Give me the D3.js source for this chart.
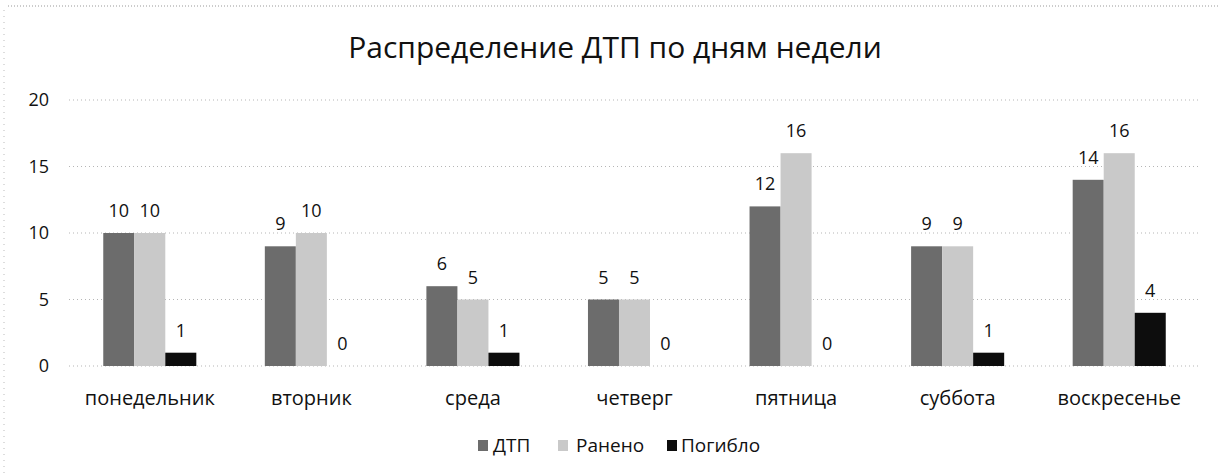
<!DOCTYPE html>
<html>
<head>
<meta charset="utf-8">
<script src="https://cdn.jsdelivr.net/npm/d3@7"></script>
<style>
  html, body { margin: 0; padding: 0; background: #fff; }
  svg { display: block; }
  text { font-family: "Open Sans", "Noto Sans", sans-serif; fill: #111; }
</style>
</head>
<body>
<svg id="chart" width="1218" height="474"></svg>
<script>
const titleText = "Распределение ДТП по дням недели";
const categories = ["понедельник", "вторник", "среда", "четверг", "пятница", "суббота", "воскресенье"];
const seriesNames = ["ДТП", "Ранено", "Погибло"];
const dtp = [10, 9, 6, 5, 12, 9, 14];
const raneno = [10, 10, 5, 5, 16, 9, 16];
const pogiblo = [1, 0, 1, 0, 0, 1, 4];
const yTicks = [0, 5, 10, 15, 20];

const seriesValues = [dtp, raneno, pogiblo];
const colors = ["#6c6c6c", "#c9c9c9", "#0d0d0d"];

const svg = d3.select("#chart");
const W = 1218, H = 474;
const plot = { left: 69, right: 1200, top: 100, bottom: 366 };

// frame borders (dotted, scan-like)
svg.append("line").attr("x1", 8).attr("x2", W).attr("y1", 6).attr("y2", 6)
  .attr("stroke", "#999").attr("stroke-width", 1).attr("stroke-dasharray", "1,2");
svg.append("line").attr("x1", 4).attr("x2", 4).attr("y1", 10).attr("y2", H)
  .attr("stroke", "#bbb").attr("stroke-width", 1).attr("stroke-dasharray", "1,5");

const x0 = d3.scaleBand().domain(categories).range([plot.left, plot.right])
  .paddingInner(0.424).paddingOuter(0.212);
const x1 = d3.scaleBand().domain(seriesNames).range([0, x0.bandwidth()]).padding(0);
const y = d3.scaleLinear().domain([0, 20]).range([plot.bottom, plot.top]);

// gridlines
svg.append("g").selectAll("line").data(yTicks).join("line")
  .attr("x1", plot.left).attr("x2", plot.right)
  .attr("y1", d => y(d)).attr("y2", d => y(d))
  .attr("stroke", "#b5b5b5").attr("stroke-width", 1).attr("stroke-dasharray", "1,3");

// y axis labels
const yAxis = d3.axisLeft(y).tickValues(yTicks).tickSize(0).tickPadding(0);
const gy = svg.append("g").attr("transform", `translate(49,0)`).call(yAxis);
gy.select(".domain").remove();
gy.selectAll("text").style("font-size", "18px").attr("fill", "#111")
  .style("font-family", '"Open Sans", sans-serif');

// x axis labels
const xAxis = d3.axisBottom(x0).tickSize(0).tickPadding(0);
const gx = svg.append("g").attr("transform", `translate(0,405)`).call(xAxis);
gx.select(".domain").remove();
gx.selectAll("text").attr("dy", 0).attr("y", 0).style("font-size", "20px").attr("fill", "#111")
  .style("font-family", '"Open Sans", sans-serif');

// bars
const groups = svg.append("g").selectAll("g").data(categories).join("g")
  .attr("transform", d => `translate(${x0(d)},0)`);

groups.selectAll("rect")
  .data((c, ci) => seriesNames.map((s, si) => ({ s, si, v: seriesValues[si][ci] })))
  .join("rect")
  .attr("x", d => x1(d.s))
  .attr("width", x1.bandwidth())
  .attr("y", d => y(d.v))
  .attr("height", d => y(0) - y(d.v))
  .attr("fill", d => colors[d.si]);

groups.selectAll("text.val")
  .data((c, ci) => seriesNames.map((s, si) => ({ s, si, v: seriesValues[si][ci] })))
  .join("text").attr("class", "val")
  .attr("x", d => x1(d.s) + x1.bandwidth() / 2)
  .attr("y", d => y(d.v) - 16)
  .attr("text-anchor", "middle")
  .style("font-size", "18px")
  .text(d => d.v);

// title
svg.append("text").attr("x", 615).attr("y", 58).attr("text-anchor", "middle")
  .style("font-size", "30px").text(titleText);

// legend
const legendPos = [
  { sq: 478, tx: 493 },
  { sq: 558, tx: 576 },
  { sq: 667, tx: 681 }
];
const lg = svg.append("g");
seriesNames.forEach((s, i) => {
  lg.append("rect").attr("x", legendPos[i].sq).attr("y", 440).attr("width", 10).attr("height", 11)
    .attr("fill", colors[i]);
  lg.append("text").attr("x", legendPos[i].tx).attr("y", 452)
    .style("font-size", "19px").text(s);
});
</script>
</body>
</html>
